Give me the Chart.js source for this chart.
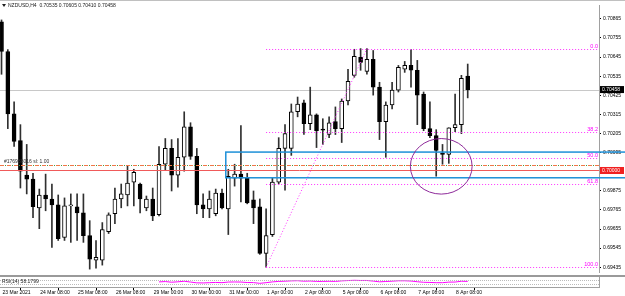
<!DOCTYPE html>
<html>
<head>
<meta charset="utf-8">
<script src="https://cdn.jsdelivr.net/npm/chart.js@4.4.0/dist/chart.umd.min.js"></script>
<style>
  html, body { margin: 0; padding: 0; background: #fff; }
</style>
</head>
<body>
<canvas id="chart" width="625" height="296"></canvas>
<script>
// NZDUSD H4, one entry per candle
const opens = [
  0.70848, 0.70677, 0.70318, 0.70164, 0.69965, 0.69942, 0.69777, 0.69851, 0.69828, 0.69794,
  0.69606, 0.69788, 0.69783, 0.69748, 0.69617, 0.69475, 0.69475, 0.69640, 0.69743, 0.69828,
  0.69851, 0.69925, 0.69914, 0.69777, 0.69828, 0.69737, 0.70028, 0.70119, 0.69965, 0.70068,
  0.70244, 0.70073, 0.69794, 0.69771, 0.69743, 0.69862, 0.69771, 0.69948, 0.69971, 0.69948,
  0.69823, 0.69783, 0.69515, 0.69623, 0.69925, 0.70119, 0.70119, 0.70330, 0.70381, 0.70261,
  0.70312, 0.70227, 0.70199, 0.70273, 0.70233, 0.70392, 0.70540, 0.70643, 0.70563, 0.70632,
  0.70472, 0.70273, 0.70369, 0.70455, 0.70575, 0.70597, 0.70569, 0.70432, 0.70233, 0.70193,
  0.70090, 0.70085, 0.70238, 0.70256, 0.70535
];
const highs = [
  0.70859, 0.70688, 0.70387, 0.70256, 0.70142, 0.69976, 0.69885, 0.69971, 0.69914, 0.69851,
  0.69834, 0.69857, 0.69857, 0.69857, 0.69703, 0.69589, 0.69692, 0.69748, 0.69891, 0.69914,
  0.70016, 0.69999, 0.69919, 0.69845, 0.69891, 0.70130, 0.70176, 0.70170, 0.70176, 0.70330,
  0.70267, 0.70119, 0.69857, 0.69874, 0.69885, 0.69885, 0.69999, 0.70028, 0.70250, 0.69976,
  0.69874, 0.69828, 0.69771, 0.69948, 0.70181, 0.70256, 0.70375, 0.70415, 0.70398, 0.70472,
  0.70318, 0.70290, 0.70301, 0.70358, 0.70404, 0.70575, 0.70690, 0.70694, 0.70694, 0.70683,
  0.70500, 0.70387, 0.70500, 0.70597, 0.70620, 0.70688, 0.70626, 0.70444, 0.70387, 0.70227,
  0.70142, 0.70238, 0.70432, 0.70540, 0.70605
];
const lows = [
  0.70546, 0.70233, 0.70130, 0.69891, 0.69857, 0.69720, 0.69657, 0.69760, 0.69549, 0.69589,
  0.69589, 0.69578, 0.69589, 0.69578, 0.69424, 0.69429, 0.69447, 0.69629, 0.69686, 0.69777,
  0.69788, 0.69788, 0.69748, 0.69760, 0.69703, 0.69731, 0.69993, 0.69874, 0.69896, 0.69988,
  0.70056, 0.69743, 0.69720, 0.69720, 0.69731, 0.69771, 0.69623, 0.69902, 0.69811, 0.69800,
  0.69686, 0.69509, 0.69435, 0.69612, 0.69914, 0.69879, 0.70079, 0.70301, 0.70199, 0.70227,
  0.70124, 0.70142, 0.70181, 0.70199, 0.70153, 0.70369, 0.70529, 0.70569, 0.70546, 0.70426,
  0.70170, 0.70068, 0.70347, 0.70444, 0.70557, 0.70472, 0.70256, 0.70221, 0.70181, 0.69959,
  0.70028, 0.70033, 0.70216, 0.70204, 0.70410
];
const closes = [
  0.70677, 0.70318, 0.70159, 0.69988, 0.69942, 0.69783, 0.69851, 0.69828, 0.69794, 0.69600,
  0.69788, 0.69790, 0.69748, 0.69617, 0.69481, 0.69492, 0.69652, 0.69737, 0.69828, 0.69857,
  0.69919, 0.69982, 0.69828, 0.69828, 0.69731, 0.70028, 0.70119, 0.69965, 0.70068, 0.70244,
  0.70073, 0.69794, 0.69771, 0.69828, 0.69862, 0.69777, 0.69959, 0.69971, 0.69948, 0.69805,
  0.69777, 0.69515, 0.69617, 0.69925, 0.70119, 0.70204, 0.70330, 0.70375, 0.70261, 0.70312,
  0.70221, 0.70224, 0.70267, 0.70233, 0.70392, 0.70506, 0.70649, 0.70614, 0.70632, 0.70472,
  0.70273, 0.70369, 0.70455, 0.70586, 0.70597, 0.70569, 0.70426, 0.70233, 0.70193, 0.70107,
  0.70085, 0.70238, 0.70256, 0.70523, 0.70458
];

// RSI(14) starts being drawn at candle 25
const rsiStart = 25;
const rsiValues = [
  52, 56, 48, 53, 60, 50, 40, 39, 42, 45,
  42, 50, 51, 50, 44, 43, 34, 42, 52, 58,
  61, 65, 67, 61, 63, 58, 58, 60, 58, 65,
  69, 72, 70, 70, 62, 53, 57, 61, 66, 66,
  63, 54, 47, 45, 42, 42, 49, 50, 60, 58.18
];

// one time label every 6 candles
const timeLabels = [
  '23 Mar 2021', '24 Mar 08:00', '25 Mar 08:00', '26 Mar 08:00', '29 Mar 00:00',
  '30 Mar 00:00', '31 Mar 00:00', '1 Apr 00:00', '2 Apr 08:00', '5 Apr 08:00',
  '6 Apr 08:00', '7 Apr 08:00', '8 Apr 08:00'
];
const priceTicks = [
  0.70865, 0.70755, 0.70645, 0.70535, 0.70425, 0.70315, 0.70205,
  0.70095, 0.69875, 0.69765, 0.69655, 0.69545, 0.69435
];

const title = 'NZDUSD,H4  0.70535 0.70605 0.70410 0.70458';
const bidPrice = 0.70458;

// fibo drawn from candle 42 low to candle 58 high
const fibLevels = [0, 38.2, 50, 61.8, 100];
const fibLowBar = 42, fibHighBar = 58;
const fibLow = 0.69435, fibHigh = 0.70694;

// blue zone, order lines, circle
const zoneTop = 0.70098, zoneBottom = 0.69950, zoneStartBar = 35.6;
const orderPrice = 0.70022;
const stopPrice = 0.69992;
const circleBar = 69.8, circlePrice = 0.70016, circleBars = 4.9, circleRange = 0.0016;

const FONT = 'Liberation Sans';

const bodies = opens.map((o, i) => ({ x: i, y: [o, closes[i]] }));
const wicks = lows.map((l, i) => ({ x: i, y: [l, highs[i]] }));
const bodyColors = opens.map((o, i) => closes[i] < o ? '#000000' : '#ffffff');
const rsiData = rsiValues.map((v, k) => ({ x: rsiStart + k, y: v }));

const overlay = {
    id: 'overlay',
    beforeDatasetsDraw(chart) {
        const { ctx, chartArea: a, scales: { y } } = chart;
        ctx.save();
        ctx.strokeStyle = '#c8c8c8';
        ctx.lineWidth = 1;
        const by = Math.round(y.getPixelForValue(bidPrice)) + 0.5;
        ctx.beginPath();
        ctx.moveTo(a.left, by);
        ctx.lineTo(a.right, by);
        ctx.stroke();
        ctx.restore();
    },
    afterDatasetsDraw(chart) {
        const { ctx, chartArea: a, scales: { x, y } } = chart;
        ctx.save();

        // fibonacci levels
        ctx.strokeStyle = '#ff33ff';
        ctx.fillStyle = '#ff00ff';
        ctx.lineWidth = 1;
        ctx.setLineDash([1, 2]);
        ctx.font = '5.5px ' + FONT;
        ctx.textAlign = 'right';
        ctx.textBaseline = 'bottom';
        const fx = x.getPixelForValue(fibLowBar);
        fibLevels.forEach(lv => {
            const py = Math.round(y.getPixelForValue(fibHigh - (fibHigh - fibLow) * lv / 100)) + 0.5;
            ctx.beginPath();
            ctx.moveTo(fx, py);
            ctx.lineTo(a.right, py);
            ctx.stroke();
            ctx.fillText(lv.toFixed(1), a.right - 1, py);
        });
        ctx.beginPath();
        ctx.moveTo(fx, y.getPixelForValue(fibLow));
        ctx.lineTo(x.getPixelForValue(fibHighBar), y.getPixelForValue(fibHigh));
        ctx.stroke();

        // order line (dash-dot) and stop line
        const oy = Math.round(y.getPixelForValue(orderPrice)) + 0.5;
        ctx.setLineDash([4, 3]);
        ctx.strokeStyle = '#f07848';
        ctx.beginPath(); ctx.moveTo(a.left, oy); ctx.lineTo(a.right, oy); ctx.stroke();
        ctx.setLineDash([1, 6]);
        ctx.lineDashOffset = -5;
        ctx.strokeStyle = '#40a040';
        ctx.beginPath(); ctx.moveTo(a.left, oy); ctx.lineTo(a.right, oy); ctx.stroke();
        ctx.setLineDash([]);
        ctx.lineDashOffset = 0;
        const sy = Math.round(y.getPixelForValue(stopPrice)) + 0.5;
        ctx.strokeStyle = '#f05a5a';
        ctx.beginPath(); ctx.moveTo(a.left, sy); ctx.lineTo(a.right, sy); ctx.stroke();
        ctx.fillStyle = '#303030';
        ctx.textAlign = 'left';
        ctx.font = '5px ' + FONT;
        ctx.fillText('#176938016 sl: 1.00', 4, oy - 1);

        // blue zone
        ctx.strokeStyle = '#1e90d8';
        ctx.lineWidth = 1.5;
        const zx = x.getPixelForValue(zoneStartBar);
        const zt = y.getPixelForValue(zoneTop);
        const zb = y.getPixelForValue(zoneBottom);
        ctx.strokeRect(zx, zt, chart.width + 5 - zx, zb - zt);

        // circle
        ctx.strokeStyle = '#8e2a9a';
        ctx.lineWidth = 1;
        const cx = x.getPixelForValue(circleBar);
        const cy = y.getPixelForValue(circlePrice);
        const rx = x.getPixelForValue(circleBar + circleBars) - cx;
        const ry = y.getPixelForValue(circlePrice - circleRange) - cy;
        ctx.beginPath();
        ctx.ellipse(cx, cy, rx, ry, 0, 0, Math.PI * 2);
        ctx.stroke();
        ctx.restore();
    },
    afterDraw(chart) {
        const { ctx, chartArea: a, scales: { y, yRsi } } = chart;
        ctx.save();
        ctx.font = '5px ' + FONT;
        ctx.textBaseline = 'middle';

        // price boxes on the axis
        const box = (price, bg, txt) => {
            const py = y.getPixelForValue(price);
            ctx.fillStyle = bg;
            ctx.fillRect(a.right + 1, py - 3.5, 24, 7);
            ctx.fillStyle = '#ffffff';
            ctx.textAlign = 'left';
            ctx.fillText(txt, a.right + 3, py);
        };
        box(bidPrice, '#000000', bidPrice.toFixed(5));
        box(stopPrice, '#f02020', '0.70000');

        // separator and RSI window
        ctx.fillStyle = '#ffffff';
        ctx.fillRect(0, 273, chart.width, 4);
        ctx.fillStyle = '#9a9a9a';
        ctx.fillRect(0, 275, chart.width, 2);
        ctx.strokeStyle = '#bbbbbb';
        ctx.setLineDash([1, 1]);
        [30, 70].forEach(v => {
            const ly = Math.round(yRsi.getPixelForValue(v)) + 0.5;
            ctx.beginPath(); ctx.moveTo(0, ly); ctx.lineTo(a.right, ly); ctx.stroke();
        });
        ctx.setLineDash([]);
        ctx.fillStyle = '#202020';
        ctx.textAlign = 'left';
        ctx.fillText('RSI(14) 58.1799', 2, 281.5);

        // title
        ctx.fillStyle = '#c0c0c0';
        ctx.fillRect(0, 0, chart.width, 1);
        ctx.fillStyle = '#202020';
        ctx.beginPath();
        ctx.moveTo(2, 4); ctx.lineTo(6, 4); ctx.lineTo(4, 7); ctx.closePath();
        ctx.fill();
        ctx.fillText(title, 8, 5.5);
        ctx.restore();
    }
};

new Chart(document.getElementById('chart'), {
    type: 'bar',
    data: {
        datasets: [
            {
                label: 'body',
                data: bodies,
                backgroundColor: bodyColors,
                borderColor: '#000000',
                borderWidth: 1,
                borderSkipped: false,
                barThickness: 4,
                minBarLength: 1,
                grouped: false,
                order: 1
            },
            {
                label: 'wick',
                data: wicks,
                backgroundColor: '#303030',
                barThickness: 1,
                grouped: false,
                order: 2
            },
            {
                type: 'line',
                label: 'RSI',
                data: rsiData,
                yAxisID: 'yRsi',
                borderColor: '#ff00ff',
                borderWidth: 1,
                pointRadius: 0,
                order: 0
            }
        ]
    },
    options: {
        responsive: false,
        animation: false,
        layout: { padding: { top: 2, left: 0, right: 0, bottom: 0 } },
        plugins: { legend: { display: false }, tooltip: { enabled: false } },
        scales: {
            x: {
                type: 'linear',
                min: -0.24,
                max: 94.84,
                offset: false,
                grid: { drawOnChartArea: false, tickLength: 3, color: '#000000' },
                border: { color: '#a0a0a0' },
                afterBuildTicks: s => { s.ticks = timeLabels.map((t, k) => ({ value: k * 6 })); },
                afterFit: s => { s.height = 9; },
                ticks: {
                    autoSkip: false,
                    maxRotation: 0,
                    minRotation: 0,
                    align: 'start',
                    labelOffset: 1,
                    padding: 0,
                    color: '#000000',
                    font: { family: FONT, size: 5 },
                    callback: (v, idx) => timeLabels[idx]
                }
            },
            y: {
                position: 'right',
                min: 0.69321,
                max: 0.70945,
                grid: { drawOnChartArea: false, tickLength: 2, color: '#000000' },
                border: { color: '#a0a0a0' },
                afterBuildTicks: s => { s.ticks = priceTicks.map(v => ({ value: v })); },
                afterFit: s => { s.width = 26; },
                ticks: {
                    padding: 2,
                    color: '#000000',
                    font: { family: FONT, size: 5 },
                    callback: v => v.toFixed(5)
                }
            },
            yRsi: {
                display: false,
                min: -12.5,
                max: 3550
            }
        }
    },
    plugins: [overlay]
});
</script>
</body>
</html>
